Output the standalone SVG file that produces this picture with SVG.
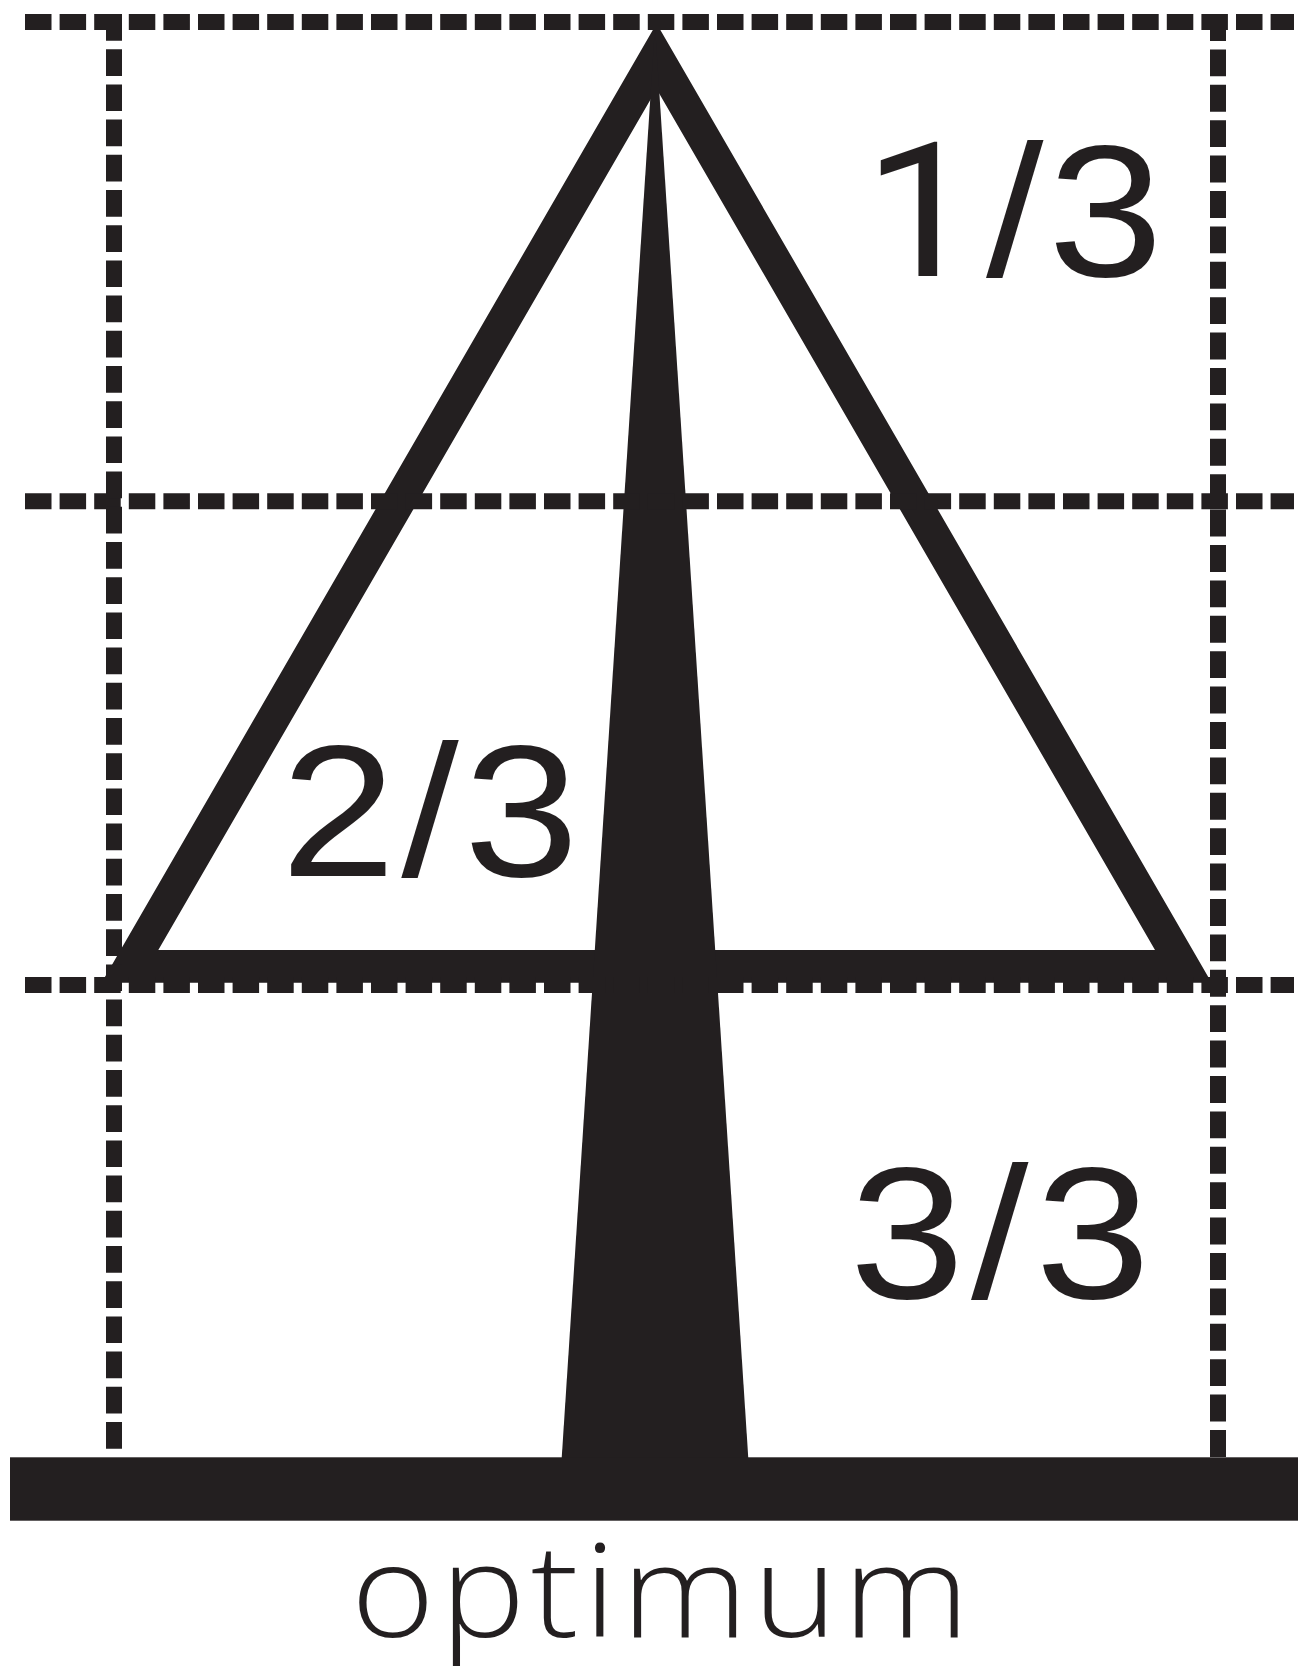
<svg xmlns="http://www.w3.org/2000/svg" width="1298" height="1666" viewBox="0 0 1298 1666">
  <style>
    .ink { fill: #231f20; }
    .hdash { stroke: #231f20; stroke-width: 16; stroke-dasharray: 26.5 8.1; fill: none; }
    .vdash { stroke: #231f20; stroke-width: 16; stroke-dasharray: 26.7 8.5; fill: none; }
    .vdash-r { stroke: #231f20; stroke-width: 16; stroke-dasharray: 26.9 8.5; fill: none; }
    .frac { font-family: "Liberation Sans", Arial, sans-serif; font-size: 188px; fill: #231f20; }
    .one { font-family: Roboto, "Liberation Sans", sans-serif; }
    .caption { font-family: "Open Sans", "Liberation Sans", sans-serif; font-size: 130px; font-weight: 300; fill: #231f20; }
  </style>
  <rect width="1298" height="1666" fill="#ffffff"/>

  <g id="triangle">
    <path class="ink" fill-rule="evenodd" d="M656.6,23.5 L1211.6,982.7 L101.6,982.7 Z M656.6,89 L158.3,950 L1155,950 Z"/>
  </g>

  <g id="trunk">
    <path class="ink" d="M655,26 L748.3,1458 L561.7,1458 Z"/>
  </g>

  <g id="base">
    <rect class="ink" x="10" y="1457.3" width="1288" height="63.4"/>
  </g>

  <g id="grid">
    <line class="hdash" x1="25" y1="22" x2="1294" y2="22"/>
    <line class="hdash" x1="25" y1="501.3" x2="1294" y2="501.3"/>
    <line class="hdash" x1="25" y1="985" x2="1294" y2="985"/>
    <line class="vdash" x1="114" y1="14" x2="114" y2="1457"/>
    <line class="vdash-r" x1="1218" y1="14" x2="1218" y2="1458"/>
  </g>

  <g id="label-1-3">
    <text class="frac" transform="translate(859,276) scale(1.1,1)" y="0"><tspan class="one" x="4">1</tspan><tspan x="115.5">/</tspan><tspan x="171.8">3</tspan></text>
  </g>
  <g id="label-2-3">
    <text class="frac" transform="translate(280.8,876) scale(1.1,1)" x="0 109.6 166.4" y="0">2/3</text>
  </g>
  <g id="label-3-3">
    <text class="frac" transform="translate(849.4,1298) scale(1.1,1)" x="0 110.5 168.9" y="0">3/3</text>
  </g>

  <g id="caption">
    <text class="caption" transform="translate(351,1637) scale(1.1,1)" x="0" y="0" textLength="562" lengthAdjust="spacing">optimum</text>
  </g>
</svg>
